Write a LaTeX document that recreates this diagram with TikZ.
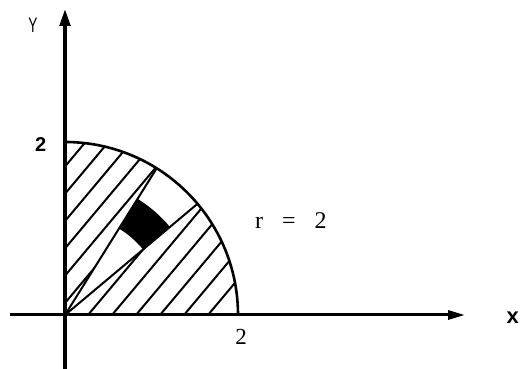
\documentclass[tikz,border=0pt]{standalone}
\usepackage{fontspec}
\setmainfont{Liberation Serif}
\newfontfamily\lsans{Liberation Sans}
\usetikzlibrary{arrows.meta}
\begin{document}
\begin{tikzpicture}[x=1pt,y=1pt,
  hatchline/.style={line width=2pt},
  rayline/.style={line width=2pt},
  rim/.style={line width=2.6pt},
  lbl/.style={inner sep=0pt}]
\useasboundingbox (-65,-54) rectangle (455,315);
\def\R{173}
\coordinate (O) at (0,0);
\coordinate (ybot) at (0,-54);
\coordinate (ytop) at (0,307);
\coordinate (xleft) at (-55,0);
\coordinate (xright) at (400,0);
\coordinate (A) at (40:\R);
\coordinate (B) at (58:\R);
% hatching, lower sector
\begin{scope}
  \clip (O) -- (\R,0) arc[start angle=0,end angle=40,radius=\R] -- cycle;
  \foreach \k in {1,...,6} \draw[hatchline] (\k*24-1,0) -- ++(50:260);
\end{scope}
% hatching, upper sector
\begin{scope}
  \clip (O) -- (B) arc[start angle=58,end angle=90,radius=\R] -- cycle;
  \foreach \j in {0,...,5} \draw[hatchline] (0,12+\j*27.3) -- ++(50:260);
\end{scope}
% rays
\draw[rayline] (O) -- (A);
\draw[rayline] (O) -- (B);
% area element
\fill (40:102) arc[start angle=40,end angle=58,radius=102] -- (58:137)
      arc[start angle=58,end angle=40,radius=137] -- cycle;
% circle
\draw[rim] (\R,0) arc[start angle=0,end angle=90,radius=\R];
% axes
\draw[line width=3pt,-{Triangle[length=17pt,width=9pt]}] (xleft) -- (xright);
\draw[line width=4.5pt,-{Triangle[length=18pt,width=10pt]}] (ybot) -- (ytop);
% labels
\node[lbl,anchor=base,xscale=0.65] (ylab) at (-32,282) {\lsans\fontsize{21}{21}\selectfont Y};
\node[lbl,anchor=base west] (twoy) at (-30,163) {\lsans\bfseries\fontsize{20}{20}\selectfont 2};
\node[lbl,anchor=base] (twox) at (176,-30) {\fontsize{23}{23}\selectfont 2};
\node[lbl,anchor=base west] (rlab) at (190,86.7) {\fontsize{24}{24}\selectfont r\hspace{19pt}=\hspace{19pt}2};
\node[lbl,anchor=base east] (xlab) at (454,-8.3) {\lsans\bfseries\fontsize{22}{22}\selectfont x};
\end{tikzpicture}
\end{document}
